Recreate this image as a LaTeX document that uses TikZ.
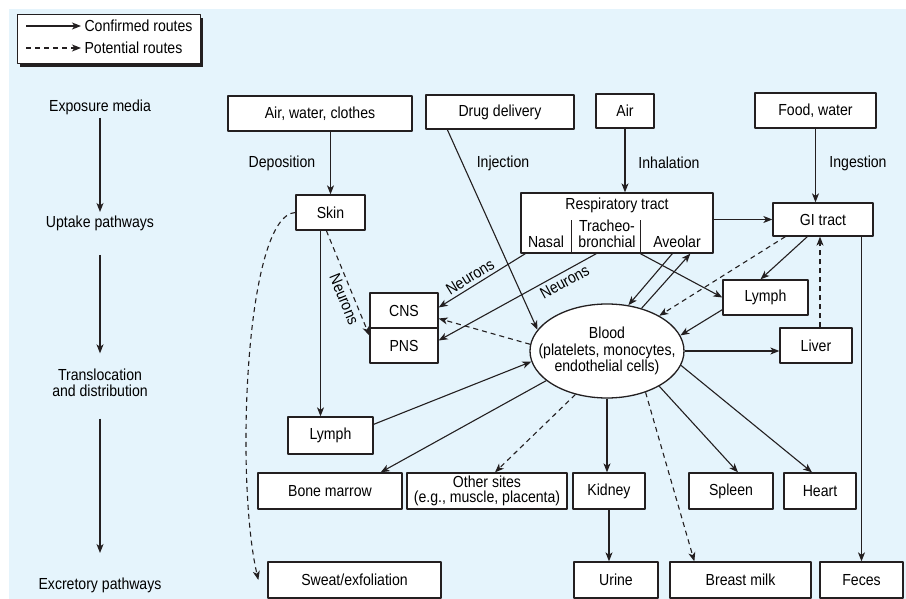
\documentclass[tikz,border=0pt]{standalone}
\usepackage{fontspec}
\setmainfont[FakeStretch=0.88]{Liberation Sans}
\usetikzlibrary{arrows.meta,shapes.geometric}
\definecolor{bgblue}{RGB}{229,244,252}
\definecolor{ink}{RGB}{35,31,32}
\begin{document}
\begin{tikzpicture}[x=1pt, y=-1pt, font=\fontsize{16}{16.5}\selectfont, line join=round,
		>={Stealth[length=9pt,width=7pt,inset=2.5pt]},
		box/.style={draw=ink, fill=white, line width=1.3pt, align=center, inner sep=1pt},
		con/.style={->, draw=ink, line width=1.1pt},
		pot/.style={con, dash pattern=on 5pt off 4pt}]
		\useasboundingbox (0,0) rectangle (906,599);
		\fill[bgblue] (9,9) rectangle (906,599);
		% legend
		\fill[ink] (20,18) rectangle (203,67);
		\draw[ink, fill=white, line width=1pt] (17,15) rectangle (200,64);
		\node[anchor=west] (conf) at (81,26) {Confirmed routes};
		\node[anchor=west] (potl) at (81,48) {Potential routes};
		\coordinate (c1) at (26,26); \coordinate (c2) at (26,48);
		\draw[con] (c1) -- (conf.west);
		\draw[pot] (c2) -- (potl.west);
		% stages
		\node (expo) at (100,107) {Exposure media};
		\node (upt) at (100,223) {Uptake pathways};
		\node[align=center] (trans) at (100,383) {Translocation\\and distribution};
		\node (excr) at (100,585) {Excretory pathways};
		\draw[con] (expo.south) -- (upt.north);
		\draw[con, shorten <=21pt, shorten >=12pt] (upt.south) -- (trans.north);
		\draw[con, shorten <=18pt, shorten >=21pt] (trans.south) -- (excr.north);
		% exposure media
		\node[box, minimum width=184, minimum height=35] (awc) at (320,113.5) {Air, water, clothes};
		\node[box, minimum width=148, minimum height=34] (drug) at (500,112) {Drug delivery};
		\node[box, minimum width=58, minimum height=34] (air) at (625,111) {Air};
		\node[box, minimum width=121, minimum height=35] (food) at (815.5,110.5) {Food, water};
		\node (depo) at (282,163) {Deposition};
		\node (inj) at (503,163) {Injection};
		\node (inh) at (669,163) {Inhalation};
		\node (ing) at (858,163) {Ingestion};
		% uptake
		\node[box, minimum width=69, minimum height=35] (skin) at (330.5,212.5) {Skin};
		\node[box, minimum width=192, minimum height=60] (resp) at (617,223) {};
		\node (resptitle) at (617,205) {Respiratory tract};
		\draw[ink, line width=1.3pt] ([xshift=51pt]resp.south west) -- ++(0,-34)
			([xshift=120pt]resp.south west) -- ++(0,-34);
		\node (nasal) at (546,242) {Nasal};
		\node[align=center, inner sep=0pt] (trach) at (607,234) {Tracheo-\\bronchial};
		\node (aveo) at (677,242) {Aveolar};
		\node[box, minimum width=100, minimum height=33] (gi) at (823,219.5) {GI tract};
		% distribution
		\node[box, minimum width=68, minimum height=35] (cns) at (404,310.5) {CNS};
		\node[box, minimum width=68, minimum height=35] (pns) at (404,345.5) {PNS};
		\node[box, ellipse, minimum width=154, minimum height=94] (blood) at (607,351) {};
		\node[align=center, inner sep=0pt] (bloodtxt) at (blood) {Blood\\(platelets, monocytes,\\endothelial cells)};
		\node[box, minimum width=85, minimum height=35] (lymphR) at (765.5,297.5) {Lymph};
		\node[box, minimum width=72, minimum height=35] (liver) at (816,345.5) {Liver};
		\node[box, minimum width=85, minimum height=37] (lymphL) at (330.5,435.5) {Lymph};
		\node[box, minimum width=144, minimum height=36] (bone) at (330,491) {Bone marrow};
		\node[box, minimum width=160, minimum height=36, font=\fontsize{16}{15}\selectfont] (other) at (487,491) {Other sites\\(e.g., muscle, placenta)};
		\node[box, minimum width=72, minimum height=36] (kidney) at (609,491) {Kidney};
		\node[box, minimum width=84, minimum height=36] (spleen) at (731,491) {Spleen};
		\node[box, minimum width=72, minimum height=36] (heart) at (820,491) {Heart};
		% excretion
		\node[box, minimum width=173, minimum height=36] (sweat) at (354.5,580) {Sweat/exfoliation};
		\node[box, minimum width=84, minimum height=36] (urine) at (616,580) {Urine};
		\node[box, minimum width=141, minimum height=36] (milk) at (740.5,580) {Breast milk};
		\node[box, minimum width=83, minimum height=36] (feces) at (861.5,580) {Feces};
		% routes
		\draw[con] (awc.south -| skin.north) -- (skin.north);
		\draw[con] ([xshift=22pt]drug.south west) -- (blood.163);
		\draw[con] (air.south) -- (air.south |- resp.north);
		\draw[con] (food.south) -- (food.south |- gi.north);
		\draw[con] (resp.east |- gi.west) -- (gi.west);
		\draw[con, <-] ([yshift=3pt]cns.east) -- node[above, sloped, pos=.42] {Neurons} ([xshift=5pt]resp.south west);
		\draw[con, <-] ([yshift=5pt]pns.east) -- node[below, sloped, pos=.77] {Neurons} ([xshift=76pt]resp.south west);
		\draw[con] ([xshift=120pt]resp.south west) -- (lymphR.west);
		\draw[con] ([xshift=152pt]resp.south west) -- (blood.65);
		\draw[con] (blood.51) -- ([xshift=170pt]resp.south west);
		\draw[con] ([xshift=35pt]gi.south west) -- ([xshift=-5pt]lymphR.north);
		\draw[pot] ([xshift=13pt]gi.south west) -- (blood.34);
		\draw[con] ([yshift=6pt]lymphR.south west) -- (blood.12);
		\draw[con] (blood.east) -- (blood.east -| liver.west);
		\draw[pot] ([xshift=4pt]liver.north) -- ([xshift=4pt]liver.north |- gi.south);
		\draw[con] (blood.-11) -- ([xshift=-8pt]heart.north);
		\draw[con] (blood.-34) -- ([xshift=7pt]spleen.north);
		\draw[pot] (blood.-47) -- ([xshift=25pt]milk.north west);
		\draw[con] (blood.south) -- (blood.south |- kidney.north);
		\draw[pot] (blood.234) -- ([xshift=8pt]other.north);
		\draw[con] (blood.206) -- ([xshift=-22pt]bone.north east);
		\draw[con] ([yshift=-8pt]lymphL.north east) -- (blood.188);
		\draw[pot] (blood.175) -- ([yshift=-8pt]cns.east);
		\draw[pot] ([xshift=31pt]skin.south west) -- node[below, sloped, pos=.62] {Neurons} ([yshift=10pt]pns.west);
		\draw[con] ([xshift=-10pt]skin.south) -- ([xshift=-10pt]skin.south |- lymphL.north);
		\draw[pot] (skin.west) .. controls (245,215) and (235,480) .. ([xshift=-9pt]sweat.west);
		\draw[con] (kidney.south) -- (kidney.south |- urine.north);
		\draw[con] (feces.north |- gi.south) -- (feces.north);
\end{tikzpicture}
\end{document}
